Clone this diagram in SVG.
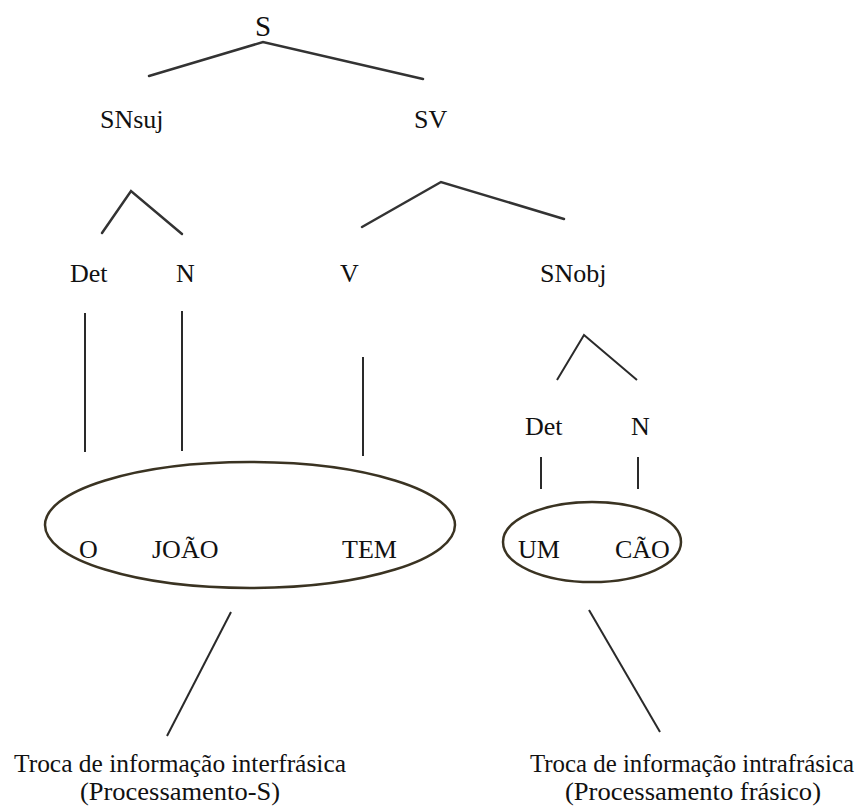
<svg xmlns="http://www.w3.org/2000/svg" width="864" height="807" viewBox="0 0 864 807">
  <style>
    text { font-family: "Liberation Serif", "Times New Roman", serif; font-size: 26px; fill: #111; }
    .root { font-size: 29px; }
    .caption { font-size: 25px; }
    .branch { stroke: #333; stroke-width: 2.5; fill: none; stroke-linecap: round; }
    .thin { stroke: #2a2a2a; stroke-width: 2; fill: none; }
    .ring { stroke: #3a3322; stroke-width: 2.5; fill: none; }
  </style>
  <rect width="864" height="807" fill="#fff"/>

  <g id="connectors">
    <polyline class="branch" points="149,76 263,42 423,79"/>
    <polyline class="branch" points="102,233 131,191 182,234"/>
    <polyline class="branch" points="362,227 441,182 564,219"/>
    <polyline class="thin" points="557,380 584,335 637,380"/>
    <line class="thin" x1="85" y1="313" x2="85" y2="452"/>
    <line class="thin" x1="182" y1="311" x2="182" y2="451"/>
    <line class="thin" x1="363" y1="357" x2="363" y2="456"/>
    <line class="thin" x1="541" y1="457" x2="541" y2="489"/>
    <line class="thin" x1="638" y1="457" x2="638" y2="489"/>
    <line class="thin" x1="231" y1="612" x2="167" y2="736"/>
    <line class="thin" x1="589" y1="610" x2="660" y2="732"/>
  </g>

  <g id="S"><text class="root" x="263" y="36" text-anchor="middle">S</text></g>
  <g id="SNsuj"><text x="100" y="128">SNsuj</text></g>
  <g id="SV"><text x="414" y="128">SV</text></g>
  <g id="Det1"><text x="70" y="282">Det</text></g>
  <g id="N1"><text x="176" y="282">N</text></g>
  <g id="V"><text x="340" y="282">V</text></g>
  <g id="SNobj"><text x="540" y="282">SNobj</text></g>
  <g id="Det2"><text x="525" y="435">Det</text></g>
  <g id="N2"><text x="631" y="435">N</text></g>

  <g id="interphrase">
    <ellipse class="ring" cx="250" cy="525" rx="205" ry="63"/>
    <text x="79" y="558">O</text>
    <text x="152" y="558">JOÃO</text>
    <text x="342" y="558">TEM</text>
  </g>

  <g id="intraphrase">
    <ellipse class="ring" cx="592" cy="542" rx="89" ry="40"/>
    <text x="518" y="558">UM</text>
    <text x="615" y="558">CÃO</text>
  </g>

  <g id="label-inter">
    <text class="caption" x="14" y="772" textLength="332" lengthAdjust="spacingAndGlyphs">Troca de informação interfrásica</text>
    <text class="caption" x="80" y="800" textLength="200" lengthAdjust="spacingAndGlyphs">(Processamento-S)</text>
  </g>
  <g id="label-intra">
    <text class="caption" x="530" y="772" textLength="324" lengthAdjust="spacingAndGlyphs">Troca de informação intrafrásica</text>
    <text class="caption" x="565" y="800" textLength="256" lengthAdjust="spacingAndGlyphs">(Processamento frásico)</text>
  </g>
</svg>
